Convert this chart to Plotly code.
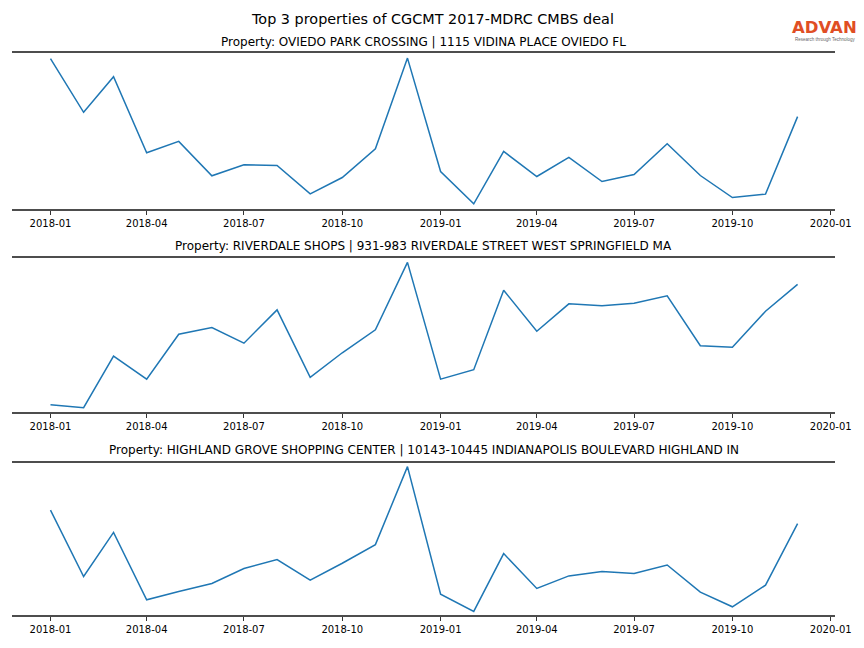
import plotly.graph_objects as go
import pandas as pd

# ---- data ----
months = pd.date_range("2018-01-01", "2019-12-01", freq="MS").strftime("%Y-%m-%d").tolist()

oviedo = [2497, 1963, 2317, 1560, 1673, 1330, 1440, 1433, 1150, 1313, 1600, 2503,
          1373, 1050, 1573, 1323, 1513, 1273, 1343, 1650, 1333, 1113, 1147, 1920]
riverdale = [1067, 1037, 1553, 1323, 1773, 1840, 1683, 2017, 1340, 1587, 1817, 2493,
             1323, 1417, 2213, 1803, 2077, 2057, 2083, 2157, 1657, 1643, 2003, 2273]
highland = [2043, 1377, 1820, 1143, 1227, 1307, 1457, 1547, 1340, 1510, 1697, 2480,
            1200, 1027, 1607, 1257, 1383, 1427, 1407, 1493, 1220, 1073, 1290, 1907]

titles = [
    "Property: OVIEDO PARK CROSSING | 1115 VIDINA PLACE OVIEDO FL",
    "Property: RIVERDALE SHOPS | 931-983 RIVERDALE STREET WEST SPRINGFIELD MA",
    "Property: HIGHLAND GROVE SHOPPING CENTER | 10143-10445 INDIANAPOLIS BOULEVARD HIGHLAND IN",
]
main_title = "Top 3 properties of CGCMT 2017-MDRC CMBS deal"
series = [oviedo, riverdale, highland]

# ---- layout helpers (pixels) ----
W, H = 864, 648
x_left, x_right = 12, 835
panels_px = [(53, 209), (258, 412), (463, 615)]  # (top, bottom)
title_px = [42.3, 246.3, 450.3]                   # subplot title centres
pads = [0.035, 0.03, 0.025]  # vertical padding fraction of the data span

def py(p):
    return 1 - p / H

FONT = "DejaVu Sans"
fig = go.Figure()
annotations = []

for i, (vals, (top, bot), ttl, pf, tpx) in enumerate(zip(series, panels_px, titles, pads, title_px)):
    n = i + 1
    xa = "x" if n == 1 else f"x{n}"
    ya = "y" if n == 1 else f"y{n}"
    fig.add_trace(go.Scatter(
        x=months, y=vals, mode="lines",
        line=dict(color="#1f77b4", width=1.5),
        xaxis=xa, yaxis=ya, showlegend=False, hoverinfo="x+y",
    ))
    lo, hi = min(vals), max(vals)
    pad = pf * (hi - lo)
    xkey = "xaxis" if n == 1 else f"xaxis{n}"
    ykey = "yaxis" if n == 1 else f"yaxis{n}"
    fig.update_layout({
        xkey: dict(
            domain=[x_left / W, x_right / W],
            anchor=ya,
            automargin=False,
            type="date",
            range=["2017-11-26", "2020-01-05"],
            tick0="2018-01-01", dtick="M3", tickformat="%Y-%m",
            showgrid=False, zeroline=False,
            showline=True, mirror=True, linecolor="#4d4d4d", linewidth=2,
            ticks="outside", ticklen=4, tickwidth=1, tickcolor="#333333",
            tickfont=dict(family=FONT, size=10, color="black"),
        ),
        ykey: dict(
            domain=[py(bot), py(top)],
            anchor=xa,
            automargin=False,
            range=[lo - pad, hi + pad],
            visible=False, showgrid=False, zeroline=False,
        ),
    })
    annotations.append(dict(
        text=ttl, xref="paper", yref="paper",
        x=(x_left + x_right) / 2 / W, y=py(tpx),
        xanchor="center", yanchor="middle", showarrow=False,
        font=dict(family=FONT, size=12, color="black"),
    ))

annotations.append(dict(
    text=main_title, xref="paper", yref="paper",
    x=0.5, y=py(19.3), xanchor="center", yanchor="middle", showarrow=False,
    font=dict(family=FONT, size=14.4, color="black"),
))
# logo
annotations.append(dict(
    text="<b>ADVAN</b>", xref="paper", yref="paper",
    x=824.5 / W, y=py(28.0), xanchor="center", yanchor="middle", showarrow=False,
    borderpad=0,
    font=dict(family=FONT, size=16.5, color="#e04e24"),
))
annotations.append(dict(
    text="Research through Technology", xref="paper", yref="paper",
    x=824.5 / W, y=py(39.0), xanchor="center", yanchor="middle", showarrow=False,
    borderpad=0,
    font=dict(family="Liberation Sans", size=4.5, color="#666666"),
))

fig.update_layout(
    width=W, height=H,
    margin=dict(l=0, r=0, t=0, b=0, autoexpand=False),
    paper_bgcolor="white", plot_bgcolor="white",
    annotations=annotations,
    showlegend=False,
)

fig.write_html(
    "out.html",
    config={"displayModeBar": False},
    post_script="document.body.style.margin='0';document.body.style.overflow='hidden';",
)
